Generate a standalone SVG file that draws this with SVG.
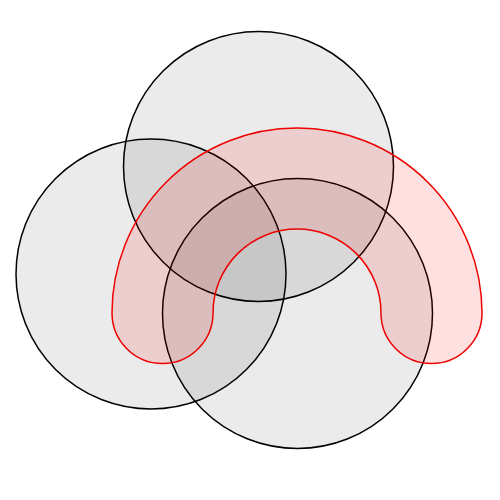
<svg xmlns="http://www.w3.org/2000/svg" width="500" height="500" viewBox="0 0 500 500">
<style>
.c{fill:#000;fill-opacity:0.08;stroke:#000;stroke-width:1.5}
.r{fill:#f00;fill-opacity:0.12;stroke:#e00;stroke-width:1.5}
</style>
<rect width="500" height="500" fill="#fff"/>
<g id="circle-top"><circle class="c" cx="258.5" cy="166.5" r="135"/></g>
<g id="circle-left"><circle class="c" cx="151" cy="274" r="135"/></g>
<g id="circle-bottom"><circle class="c" cx="297.5" cy="313.5" r="135"/></g>
<g id="arch"><path class="r" d="M112 313 A185 185 0 0 1 482 313 A50.5 50.5 0 0 1 381 313 A84 84 0 0 0 213 313 A50.5 50.5 0 0 1 112 313 Z"/></g>
</svg>
